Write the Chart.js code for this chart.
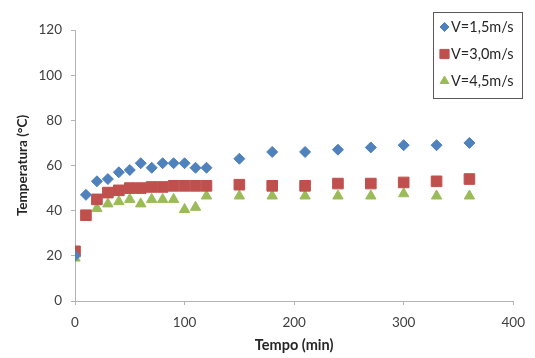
<!DOCTYPE html>
<html>
<head>
<meta charset="utf-8">
<script src="https://cdn.jsdelivr.net/npm/chart.js@4.4.1/dist/chart.umd.min.js"></script>
<style>
html,body{margin:0;padding:0;background:#fff;}
#wrap{width:535px;height:358px;position:relative;}
</style>
</head>
<body>
<div id="wrap"><canvas id="c" width="535" height="358"></canvas></div>
<script>
const tempo = [0,10,20,30,40,50,60,70,80,90,100,110,120,150,180,210,240,270,300,330,360];
const v15 = [20,47,53,54,57,58,61,59,61,61,61,59,59,63,66,66,67,68,69,69,70];
const v30 = [22,38,45,48,49,50,50,50.5,50.5,51,51,51,51,51.5,51,51,52,52,52.5,53,54];
const v45 = [19,37,41,43,44,45,43,45,45,45,40.5,41.5,46.5,46.5,46.5,46.5,46.5,46.5,47.5,46.5,46.5];
const seriesLabels = ['V=1,5m/s','V=3,0m/s','V=4,5m/s'];
const xTicks = [0,100,200,300,400];
const yTicks = [0,20,40,60,80,100,120];

const colors = ['#4F81BD','#C0504D','#9BBB59'];
const styles = ['rectRot','rect','triangle'];
const radii = [5.5,7.5,6];
const FONT = 'Lato, "Open Sans", "Liberation Sans", sans-serif';

function pts(vals){ return tempo.map((t,i)=>({x:t,y:vals[i]})); }
const allVals = [v15,v30,v45];

const legendPlugin = {
  id:'boxLegend',
  afterDraw(chart){
    const ctx = chart.ctx;
    ctx.save();
    ctx.strokeStyle = '#595959';
    ctx.lineWidth = 1;
    ctx.strokeRect(433.5,12.5,89,86);
    ctx.font = '14.5px ' + FONT;
    ctx.textBaseline = 'middle';
    ctx.textAlign = 'left';
    const ys = [27,54,81];
    seriesLabels.forEach((lab,i)=>{
      ctx.fillStyle = colors[i];
      ctx.strokeStyle = colors[i];
      Chart.helpers.drawPoint(ctx,{pointStyle:styles[i],radius:radii[i]-1,borderWidth:1},444.5,ys[i]);
      ctx.fillStyle = '#262626';
      ctx.fillText(lab,451,ys[i]);
    });
    ctx.restore();
  }
};

new Chart(document.getElementById('c'),{
  type:'scatter',
  data:{
    datasets: allVals.map((vals,i)=>({
      label: seriesLabels[i],
      data: pts(vals),
      pointStyle: styles[i],
      pointRadius: radii[i],
      pointHoverRadius: radii[i],
      backgroundColor: colors[i],
      borderColor: colors[i],
      borderWidth: 1,
      showLine:false
    }))
  },
  options:{
    responsive:false,
    animation:false,
    events:[],
    layout:{padding:{left:0,right:17,top:30,bottom:0}},
    plugins:{legend:{display:false},tooltip:{enabled:false}},
    scales:{
      x:{
        type:'linear', min:0, max:400,
        afterBuildTicks(s){ s.ticks = xTicks.map(v=>({value:v})); },
        afterFit(s){ s.height = 57; },
        grid:{drawOnChartArea:false, drawTicks:true, tickLength:4, color:'#b3b3b3'},
        border:{color:'#b3b3b3', width:1},
        ticks:{padding:10, color:'#404040', font:{family:FONT,size:13.5}, maxRotation:0},
        title:{display:true, text:'Tempo (min)', color:'#262626', font:{family:FONT,size:14.5,weight:'bold'}, padding:{top:0,bottom:4}}
      },
      y:{
        type:'linear', min:0, max:120,
        afterBuildTicks(s){ s.ticks = yTicks.map(v=>({value:v})); },
        afterFit(s){ s.width = 75; },
        grid:{drawOnChartArea:false, drawTicks:true, tickLength:4, color:'#b3b3b3'},
        border:{color:'#b3b3b3', width:1},
        ticks:{padding:9, color:'#404040', font:{family:FONT,size:13.5}},
        title:{display:true, text:'Temperatura (°C)', color:'#262626', font:{family:FONT,size:13.5,weight:'bold'}, padding:{top:15,bottom:0}}
      }
    }
  },
  plugins:[legendPlugin]
});
</script>
</body>
</html>
